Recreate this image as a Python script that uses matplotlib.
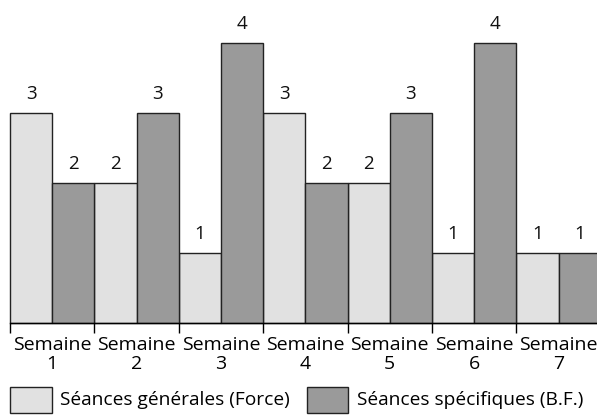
import matplotlib.pyplot as plt
from matplotlib.patches import Rectangle

# donnees
semaines = ['Semaine\n1', 'Semaine\n2', 'Semaine\n3', 'Semaine\n4',
            'Semaine\n5', 'Semaine\n6', 'Semaine\n7']
generales = [3, 2, 1, 3, 2, 1, 1]
specifiques = [2, 3, 4, 2, 3, 4, 1]
legende = ['Séances générales (Force)', 'Séances spécifiques (B.F.)']

clair = '#e1e1e1'
fonce = '#9a9a9a'

plt.rcParams['font.family'] = ['Open Sans', 'DejaVu Sans']

W, H = 597, 415
fig = plt.figure(figsize=(W / 100, H / 100), dpi=100)

# axes: x=0 a 10px, 42.2 px par barre ; y=0 a 323px, 70 px par unite
px_x = 42.2
px_y = 70.0
left = 10 / W
bottom = (H - 323) / H
ax = fig.add_axes([left, bottom, 1 - left, 1 - bottom])
ax.set_xlim(0, (W - 10) / px_x)
ax.set_ylim(0, 323 / px_y)

n = len(semaines)
xg = [2 * i + 0.5 for i in range(n)]
xs = [2 * i + 1.5 for i in range(n)]
ax.bar(xg, generales, width=1, color=clair, edgecolor='#222222', linewidth=1, clip_on=False)
ax.bar(xs, specifiques, width=1, color=fonce, edgecolor='#222222', linewidth=1, clip_on=False)

for x, v in zip(xg + xs, generales + specifiques):
    ax.annotate(str(v), (x, v), xytext=(0, 7), textcoords='offset points',
                ha='center', va='bottom', fontsize=13.5, color='#111111')

for s in ['top', 'right', 'left']:
    ax.spines[s].set_visible(False)
ax.spines['bottom'].set_linewidth(1)
ax.set_yticks([])
ax.set_xticks([2 * i for i in range(n)])
ax.set_xticklabels([])
ax.tick_params(axis='x', which='major', length=7.5, width=1, direction='out')
ax.set_xticks([2 * i + 1 for i in range(n)], minor=True)
ax.set_xticklabels(semaines, minor=True, fontsize=14, linespacing=1.1)
ax.tick_params(axis='x', which='minor', length=0, pad=9)

# legende
ly = (H - 413) / H
lh = 26 / H
fig.add_artist(Rectangle((10 / W, ly), 42 / W, lh, transform=fig.transFigure,
                         facecolor=clair, edgecolor='#222222', linewidth=1))
fig.add_artist(Rectangle((307 / W, ly), 41 / W, lh, transform=fig.transFigure,
                         facecolor=fonce, edgecolor='#222222', linewidth=1))
fig.text(60 / W, ly + lh / 2, legende[0], fontsize=13.8, va='center', ha='left')
fig.text(357 / W, ly + lh / 2, legende[1], fontsize=13.8, va='center', ha='left')

fig.savefig('out.png', dpi=100)
